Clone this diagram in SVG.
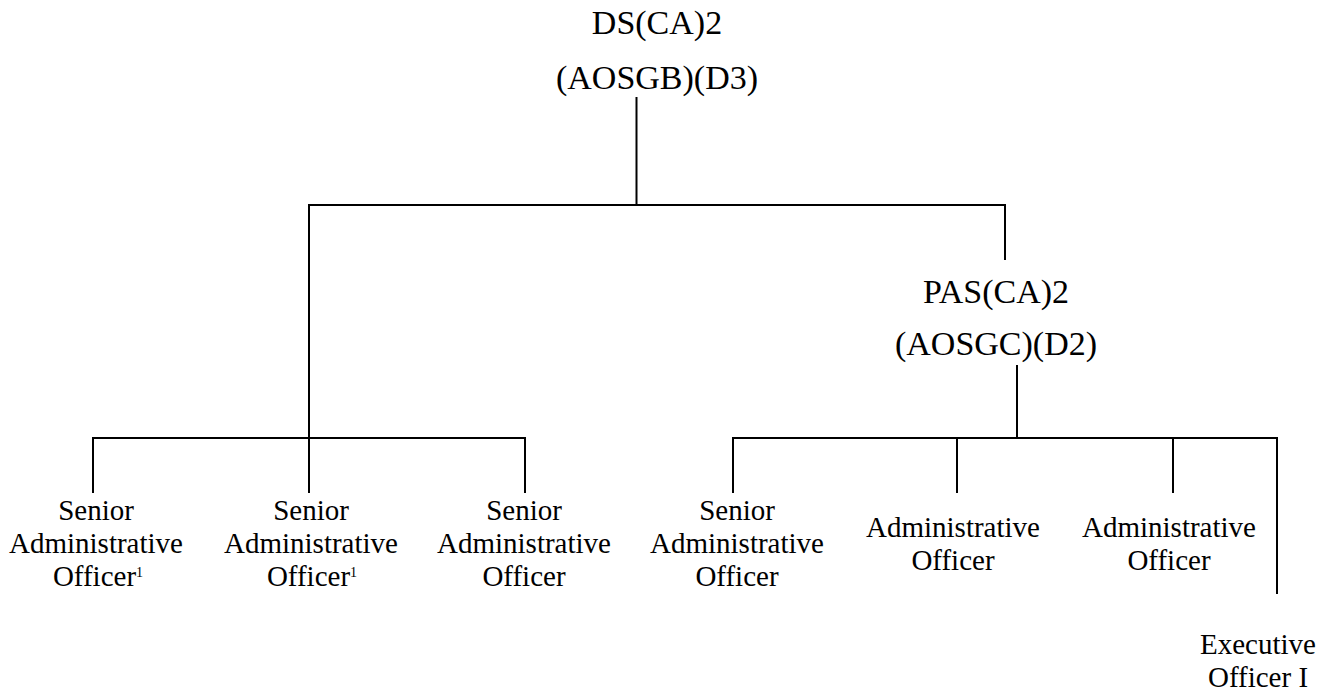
<svg xmlns="http://www.w3.org/2000/svg" width="1333" height="691" viewBox="0 0 1333 691">
  <style>
    .lbl { font-family: "Liberation Serif", "Times New Roman", serif; fill: #000; text-anchor: middle; }
    .head { font-size: 34px; }
    .post { font-size: 29px; }
    .sup { font-size: 14px; }
    .conn { stroke: #000; stroke-width: 2; fill: none; stroke-linecap: square; }
  </style>
  <rect width="1333" height="691" fill="#fff"/>

  <g id="connectors" class="conn">
    <!-- DS(CA)2 down to first bus -->
    <line x1="636.5" y1="98" x2="636.5" y2="205"/>
    <line x1="309" y1="205" x2="1005" y2="205"/>
    <line x1="309" y1="205" x2="309" y2="438"/>
    <line x1="1005" y1="205" x2="1005" y2="259"/>
    <!-- left bus for senior officers -->
    <line x1="93" y1="438" x2="525" y2="438"/>
    <line x1="93" y1="438" x2="93" y2="492"/>
    <line x1="525" y1="438" x2="525" y2="492"/>
    <line x1="309" y1="438" x2="309" y2="492"/>
    <!-- PAS(CA)2 down to right bus -->
    <line x1="1017" y1="366" x2="1017" y2="438"/>
    <line x1="733" y1="438" x2="1277" y2="438"/>
    <line x1="733" y1="438" x2="733" y2="492"/>
    <line x1="957" y1="438" x2="957" y2="492"/>
    <line x1="1173" y1="438" x2="1173" y2="492"/>
    <line x1="1277" y1="438" x2="1277" y2="593"/>
  </g>

  <g id="ds-ca2" class="lbl head">
    <text x="657" y="34">DS(CA)2</text>
    <text x="657" y="89">(AOSGB)(D3)</text>
  </g>

  <g id="pas-ca2" class="lbl head">
    <text x="996" y="303">PAS(CA)2</text>
    <text x="996" y="355">(AOSGC)(D2)</text>
  </g>

  <g id="sao-1" class="lbl post">
    <text x="96" y="520">Senior</text>
    <text x="96" y="553">Administrative</text>
    <text x="98" y="586">Officer<tspan class="sup" dy="-9">1</tspan></text>
  </g>

  <g id="sao-2" class="lbl post">
    <text x="311" y="520">Senior</text>
    <text x="311" y="553">Administrative</text>
    <text x="312" y="586">Officer<tspan class="sup" dy="-9">1</tspan></text>
  </g>

  <g id="sao-3" class="lbl post">
    <text x="524" y="520">Senior</text>
    <text x="524" y="553">Administrative</text>
    <text x="524" y="586">Officer</text>
  </g>

  <g id="sao-4" class="lbl post">
    <text x="737" y="520">Senior</text>
    <text x="737" y="553">Administrative</text>
    <text x="737" y="586">Officer</text>
  </g>

  <g id="ao-1" class="lbl post">
    <text x="953" y="537">Administrative</text>
    <text x="953" y="570">Officer</text>
  </g>

  <g id="ao-2" class="lbl post">
    <text x="1169" y="537">Administrative</text>
    <text x="1169" y="570">Officer</text>
  </g>

  <g id="eo-1" class="lbl post">
    <text x="1258" y="654">Executive</text>
    <text x="1258" y="687">Officer I</text>
  </g>
</svg>
